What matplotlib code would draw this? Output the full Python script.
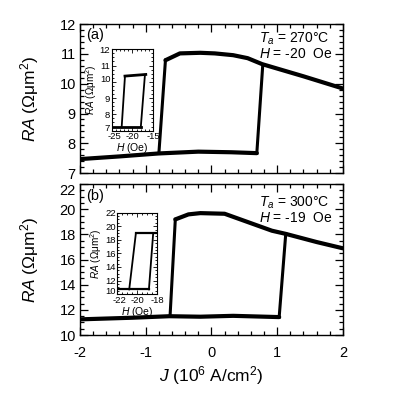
import matplotlib
matplotlib.use("Agg")
import matplotlib.pyplot as plt
from matplotlib.ticker import MultipleLocator
from matplotlib.transforms import ScaledTranslation

plt.rcParams['font.family'] = ['Liberation Sans', 'DejaVu Sans']
plt.rcParams['mathtext.fontset'] = 'custom'
plt.rcParams['mathtext.rm'] = 'Liberation Sans'
plt.rcParams['mathtext.it'] = 'Liberation Sans:italic'

# ---- Panel (a): Ta = 270 C, H = -20 Oe ----
a_low_J = [-2.0, -1.4, -0.8, -0.2, 0.3, 0.69]
a_low_RA = [7.47, 7.56, 7.66, 7.72, 7.70, 7.67]
a_up_J = [-0.70, -0.48, -0.17, 0.05, 0.33, 0.55, 0.77, 1.4, 2.0]
a_up_RA = [10.79, 11.02, 11.04, 11.02, 10.96, 10.86, 10.66, 10.25, 9.84]
a_jump_right_J = [0.69, 0.78]
a_jump_right_RA = [7.67, 10.62]
a_jump_left_J = [-0.70, -0.80]
a_jump_left_RA = [10.79, 7.66]

# inset (a)
ai_low_H = [-25.0, -18.0]
ai_low_RA = [7.2, 7.2]
ai_up_H = [-21.8, -16.8]
ai_up_RA = [10.35, 10.45]
ai_jr_H = [-18.0, -17.0]
ai_jr_RA = [7.2, 10.43]
ai_jl_H = [-21.8, -22.6]
ai_jl_RA = [10.35, 7.2]

# ---- Panel (b): Ta = 300 C, H = -19 Oe ----
b_low_J = [-2.0, -1.2, -0.64, -0.17, 0.33, 1.03]
b_low_RA = [11.25, 11.38, 11.50, 11.46, 11.53, 11.43]
b_up_J = [-0.55, -0.35, -0.17, 0.2, 0.92, 1.13, 1.6, 2.0]
b_up_RA = [19.2, 19.6, 19.7, 19.65, 18.3, 18.05, 17.4, 16.9]
b_jump_right_J = [1.03, 1.13]
b_jump_right_RA = [11.43, 18.05]
b_jump_left_J = [-0.55, -0.63]
b_jump_left_RA = [19.2, 11.5]

# inset (b)
bi_low_H = [-22.0, -18.83]
bi_low_RA = [10.7, 10.7]
bi_up_H = [-20.13, -18.0]
bi_up_RA = [19.0, 19.0]
bi_jr_H = [-18.83, -18.4]
bi_jr_RA = [10.7, 19.0]
bi_jl_H = [-20.13, -20.8]
bi_jl_RA = [19.0, 10.7]

fig = plt.figure(figsize=(3.96, 3.97), dpi=100)
axA = fig.add_axes([0.202, 0.564, 0.664, 0.375])
axB = fig.add_axes([0.202, 0.156, 0.664, 0.380])
inA = fig.add_axes([0.282, 0.671, 0.105, 0.205])
inB = fig.add_axes([0.296, 0.259, 0.101, 0.2055])

k = 'black'
main_lw = 3.0
jump_lw = 2.2

axA.plot(a_low_J, a_low_RA, color=k, lw=main_lw, solid_capstyle='round', solid_joinstyle='round')
axA.plot(a_up_J, a_up_RA, color=k, lw=main_lw, solid_capstyle='round', solid_joinstyle='round')
axA.plot(a_jump_right_J, a_jump_right_RA, color=k, lw=jump_lw)
axA.plot(a_jump_left_J, a_jump_left_RA, color=k, lw=jump_lw)

axB.plot(b_low_J, b_low_RA, color=k, lw=main_lw, solid_capstyle='round', solid_joinstyle='round')
axB.plot(b_up_J, b_up_RA, color=k, lw=main_lw, solid_capstyle='round', solid_joinstyle='round')
axB.plot(b_jump_right_J, b_jump_right_RA, color=k, lw=jump_lw)
axB.plot(b_jump_left_J, b_jump_left_RA, color=k, lw=jump_lw)

for ax in (axA, axB):
    ax.set_xlim(-2, 2)
    ax.xaxis.set_major_locator(MultipleLocator(1))
    ax.xaxis.set_minor_locator(MultipleLocator(0.2))
    ax.tick_params(which='both', direction='in', top=True, right=True, labelsize=10.5, width=0.9)
    ax.tick_params(which='major', length=6)
    ax.tick_params(which='minor', length=3)
    ax.tick_params(axis='y', pad=3)
    ax.tick_params(axis='x', pad=8)
    for s in ax.spines.values():
        s.set_linewidth(1.0)

axA.set_ylim(7, 12)
axA.yaxis.set_major_locator(MultipleLocator(1))
axA.yaxis.set_minor_locator(MultipleLocator(0.2))
axA.tick_params(axis='x', labelbottom=False)

axB.set_ylim(10, 22)
axB.yaxis.set_major_locator(MultipleLocator(2))
axB.yaxis.set_minor_locator(MultipleLocator(0.5))
axB.set_xticks([-2, -1, 0, 1, 2])
axB.set_xticklabels(['-2', '-1', '0', '1', '2'])

axA.set_ylabel('$RA$ (Ωμm$^2$)', fontsize=12.5)
axB.set_ylabel('$RA$ (Ωμm$^2$)', fontsize=12.5)
axB.set_xlabel('$J$ (10$^6$ A/cm$^2$)', fontsize=12.5, labelpad=3)
axA.yaxis.set_label_coords(-0.15, 0.5)
axB.yaxis.set_label_coords(-0.15, 0.5)

axA.text(0.025, 0.93, '(a)', transform=axA.transAxes, fontsize=10.5, va='center', ha='left')
axB.text(0.025, 0.92, '(b)', transform=axB.transAxes, fontsize=10.5, va='center', ha='left')
axA.text(0.68, 0.90, '$T_a$ = 270°C', transform=axA.transAxes, fontsize=10, va='center', ha='left')
axA.text(0.68, 0.80, '$H$ = -20  Oe', transform=axA.transAxes, fontsize=10, va='center', ha='left')
axB.text(0.68, 0.875, '$T_a$ = 300°C', transform=axB.transAxes, fontsize=10, va='center', ha='left')
axB.text(0.68, 0.775, '$H$ = -19  Oe', transform=axB.transAxes, fontsize=10, va='center', ha='left')

# insets
inA.plot(ai_low_H, ai_low_RA, color=k, lw=2.0)
inA.plot(ai_up_H, ai_up_RA, color=k, lw=2.0)
inA.plot(ai_jr_H, ai_jr_RA, color=k, lw=1.3)
inA.plot(ai_jl_H, ai_jl_RA, color=k, lw=1.3)
inA.set_xlim(-25, -15)
inA.set_ylim(7, 12)
inA.xaxis.set_major_locator(MultipleLocator(5))
inA.xaxis.set_minor_locator(MultipleLocator(1))
inA.yaxis.set_major_locator(MultipleLocator(1))
inA.yaxis.set_minor_locator(MultipleLocator(0.25))

inB.plot(bi_low_H, bi_low_RA, color=k, lw=1.6)
inB.plot(bi_up_H, bi_up_RA, color=k, lw=1.6)
inB.plot(bi_jr_H, bi_jr_RA, color=k, lw=1.3)
inB.plot(bi_jl_H, bi_jl_RA, color=k, lw=1.3)
inB.set_xlim(-22, -18)
inB.set_ylim(10, 22)
inB.xaxis.set_major_locator(MultipleLocator(2))
inB.xaxis.set_minor_locator(MultipleLocator(0.5))
inB.yaxis.set_major_locator(MultipleLocator(2))
inB.yaxis.set_minor_locator(MultipleLocator(0.5))

for ax in (inA, inB):
    ax.tick_params(which='both', direction='in', top=True, right=True, labelsize=6.8, width=0.6, pad=1)
    ax.tick_params(which='major', length=3)
    ax.tick_params(which='minor', length=1.5)
    for s in ax.spines.values():
        s.set_linewidth(0.8)
    ax.set_ylabel('$RA$ (Ωμm$^2$)', fontsize=7.2, labelpad=0.5)
    ax.set_xlabel('$H$ (Oe)', fontsize=7.5, labelpad=0)

inA.set_xticks([-25, -20, -15])
inA.set_xticklabels(['-25', '-20', '-15'])
inB.set_xticks([-22, -20, -18])
inB.set_xticklabels(['-22', '-20', '-18'])

# small nudges of crowded tick labels (as in the reference)
fig.canvas.draw()
for t in axB.yaxis.get_major_ticks():
    if t.label1.get_text() == '22':
        t.label1.set_verticalalignment('top')
for ax in (inA, inB):
    for t in ax.yaxis.get_major_ticks():
        if t.label1.get_text() in ('7', '10'):
            t.label1.set_verticalalignment('baseline')
    for t in ax.xaxis.get_major_ticks():
        if t.label1.get_text() in ('-25', '-22'):
            t.label1.set_verticalalignment('top')
            t.label1.set_transform(t.label1.get_transform() +
                                   ScaledTranslation(2 / 72, 0, fig.dpi_scale_trans))

fig.savefig('out.png', dpi=100)
